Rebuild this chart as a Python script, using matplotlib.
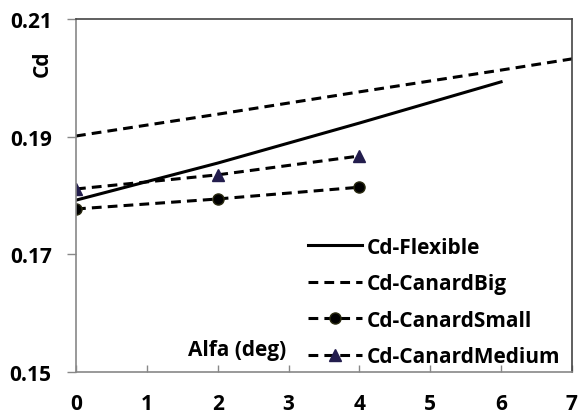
import matplotlib.pyplot as plt

# angle of attack (deg)
alfa_flex = [0, 2, 4, 6]
cd_flexible = [0.1792, 0.1855, 0.1923, 0.1993]

alfa_big = [0, 2, 4, 6, 8]
cd_canard_big = [0.1901, 0.1938, 0.1976, 0.2013, 0.2051]

alfa_canard = [0, 2, 4]
cd_canard_small = [0.1777, 0.1794, 0.1814]
cd_canard_medium = [0.1811, 0.1835, 0.1867]

plt.rcParams['font.family'] = ['Open Sans', 'DejaVu Sans']
plt.rcParams['font.weight'] = 'bold'

fig = plt.figure(figsize=(5.78, 4.14), dpi=100)
ax = fig.add_axes([0.1315, 0.099, 0.858, 0.853])

dash = (0, (3.2, 2.0))
ax.plot(alfa_flex, cd_flexible, color='black', lw=2.2, label='Cd-Flexible')
ax.plot(alfa_big, cd_canard_big, color='black', lw=2.2, linestyle=dash, label='Cd-CanardBig')
ax.plot(alfa_canard, cd_canard_small, color='black', lw=2.2, linestyle=dash,
        marker='o', markersize=8, markerfacecolor='black', markeredgecolor='#2a2a10',
        label='Cd-CanardSmall')
ax.plot(alfa_canard, cd_canard_medium, color='black', lw=2.2, linestyle=dash,
        marker='^', markersize=9, markerfacecolor='#231d4d', markeredgecolor='#231d4d',
        label='Cd-CanardMedium')

ax.set_xlim(0, 7)
ax.set_ylim(0.15, 0.21)
ax.set_xticks(range(0, 8))
ax.set_yticks([0.15, 0.17, 0.19, 0.21])
ax.set_yticklabels(['0.15', '0.17', '0.19', '0.21'])
ax.tick_params(axis='y', direction='out', length=6.5, width=1, color='#888888', labelsize=15, pad=11)
ax.tick_params(axis='x', direction='in', length=5, width=1, color='#888888', labelsize=15, pad=15)
for lbl in ax.get_xticklabels() + ax.get_yticklabels():
    lbl.set_fontweight('bold')

for s in ['left', 'bottom']:
    ax.spines[s].set_color('#888888')
for s in ['top', 'right']:
    ax.spines[s].set_color('#444444')
for s in ax.spines.values():
    s.set_linewidth(1.2)

ax.set_ylabel('Cd', fontsize=15, fontweight='bold')
ax.yaxis.set_label_coords(-0.047, 0.875)
ax.text(2.27, 0.1539, 'Alfa (deg)', fontsize=15, fontweight='bold', ha='center', va='center')

leg = ax.legend(loc='lower right', bbox_to_anchor=(1.015, -0.04), frameon=False,
                prop={'size': 15, 'weight': 'bold'},
                handlelength=2.6, handletextpad=0.25, labelspacing=0.75)

fig.savefig('out.png', dpi=100)
